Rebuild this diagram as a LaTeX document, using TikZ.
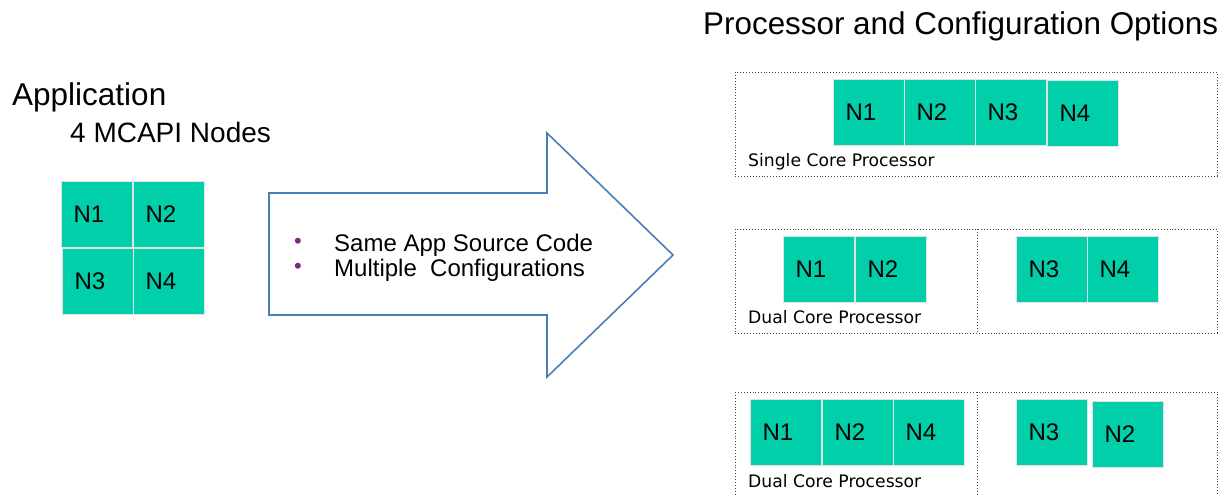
\documentclass[tikz,border=0pt]{standalone}
\usepackage{fontspec}
\setmainfont{Liberation Sans}
\newfontfamily\cpufont{DejaVu Sans}
\definecolor{nodeteal}{RGB}{0,207,170}
\definecolor{cellrim}{RGB}{226,226,226}
\definecolor{arrowblue}{RGB}{74,126,183}
\definecolor{bulletpurple}{RGB}{128,40,130}
\definecolor{panelrim}{RGB}{70,70,70}
\tikzset{
  cell/.style={rectangle, fill=nodeteal, draw=cellrim, line width=1.2pt,
    anchor=north west, inner xsep=12pt, inner ysep=0pt,
    text width=47pt, align=left, minimum height=66pt,
    font=\fontsize{24}{24}\selectfont},
  panel/.style={draw=panelrim, dotted, line width=0.9pt},
  bigarrow/.style={draw=arrowblue, line width=1.6pt, line join=miter},
  cpulabel/.style={anchor=base west, inner sep=0pt, font=\cpufont\fontsize{17.2}{17.2}\selectfont},
  heading/.style={anchor=base west, inner sep=0pt},
  bulletdot/.style={inner sep=0pt, text=bulletpurple, font=\fontsize{22}{22}\selectfont},
  bullettext/.style={anchor=base west, inner sep=0pt, font=\fontsize{24}{24}\selectfont}
}
\begin{document}
\begin{tikzpicture}[x=1pt,y=-1pt]
\useasboundingbox (0,0) rectangle (1226,495);

% headings
\node[heading, font=\fontsize{31.5}{31.5}\selectfont] (app) at (12,105) {Application};
\node[heading, font=\fontsize{28}{28}\selectfont] (nodes) at (70,142) {4 MCAPI Nodes};
\node[heading, font=\fontsize{31.4}{31.4}\selectfont] (title) at (703,35) {Processor and Configuration Options};

% application nodes
\node[cell] (a1) at (61,181) {N1};
\node[cell] (a2) at (133,181) {N2};
\node[cell] (a3) at (62,248) {N3};
\node[cell] (a4) at (133,248) {N4};

% block arrow
\draw[bigarrow] (269,193) -- (547,193) -- (547,133) -- (673,255)
  -- (547,377) -- (547,315) -- (269,315) -- cycle;
\node[bulletdot] (b1) at (298,243) {\textbullet};
\node[bulletdot] (b2) at (298,268) {\textbullet};
\node[bullettext] (t1) at (334,251) {Same App Source Code};
\node[bullettext] (t2) at (334,276) {Multiple\ \ Configurations};

% single core processor
\draw[panel] (735,72) rectangle (1217,176);
\node[cell] (s1) at (833,79) {N1};
\node[cell] (s2) at (904,79) {N2};
\node[cell] (s3) at (975,79) {N3};
\node[cell] (s4) at (1047,80) {N4};
\node[cpulabel] (sl) at (748,166) {Single Core Processor};

% dual core processor, two nodes per core
\draw[panel] (735,229) rectangle (1217,333);
\draw[panel] (977,229) -- (977,333);
\node[cell] (d1) at (783,236) {N1};
\node[cell] (d2) at (855,236) {N2};
\node[cell] (d3) at (1016,236) {N3};
\node[cell] (d4) at (1087,236) {N4};
\node[cpulabel] (dl) at (748,323) {Dual Core Processor};

% dual core processor, three nodes and two nodes
\draw[panel] (735,392) rectangle (1217,505);
\draw[panel] (977,392) -- (977,505);
\node[cell] (e1) at (750,399) {N1};
\node[cell] (e2) at (822,399) {N2};
\node[cell] (e4) at (893,399) {N4};
\node[cell] (e3) at (1016,399) {N3};
\node[cell] (e5) at (1092,401) {N2};
\node[cpulabel] (el) at (748,487) {Dual Core Processor};
\end{tikzpicture}
\end{document}
